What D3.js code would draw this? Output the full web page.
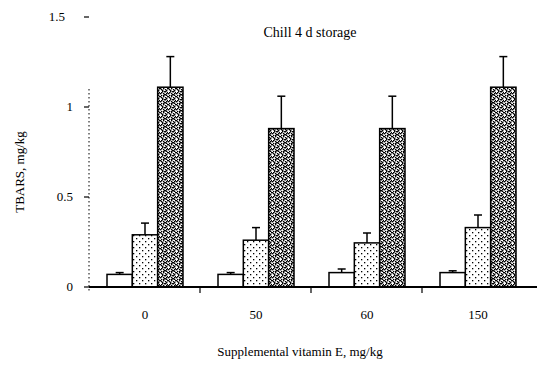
<!DOCTYPE html>
<html lang="en">
<head>
<meta charset="utf-8" />
<title>TBARS chart</title>
<script src="https://d3js.org/d3.v7.min.js"></script>
<style>
  body { margin: 0; background: #fff; }
  text { font-family: "Liberation Serif", serif; font-size: 13px; fill: #000; }
</style>
</head>
<body>
<svg id="chart" width="540" height="369"></svg>
<script>
// data
const groups = ["0", "50", "60", "150"];
const seriesNames = ["a", "b", "c"];
const meanA = [0.07, 0.07, 0.08, 0.08];
const errA  = [0.01, 0.01, 0.02, 0.01];
const meanB = [0.29, 0.26, 0.245, 0.33];
const errB  = [0.065, 0.07, 0.055, 0.07];
const meanC = [1.11, 0.88, 0.88, 1.11];
const errC  = [0.17, 0.18, 0.18, 0.17];
const yTicks = [0, 0.5, 1, 1.5];

const svg = d3.select("#chart");
const mLeft = 89, mRight = 533, mTop = 17, mBottom = 287;

const x = d3.scaleBand().domain(groups).range([mLeft, mRight]);
const xs = d3.scaleBand().domain(seriesNames).range([18, 94]);
const y = d3.scaleLinear().domain([0, 1.5]).range([mBottom, mTop]);

// fill patterns
const defs = svg.append("defs");
const dots = defs.append("pattern").attr("id", "dots")
    .attr("patternUnits", "userSpaceOnUse").attr("width", 6).attr("height", 6);
dots.append("rect").attr("width", 6).attr("height", 6).attr("fill", "#fff");
[[1, 1], [4, 4]].forEach(p => dots.append("rect")
    .attr("x", p[0]).attr("y", p[1]).attr("width", 1.3).attr("height", 1.3).attr("fill", "#000"));

const dense = defs.append("pattern").attr("id", "dense")
    .attr("patternUnits", "userSpaceOnUse").attr("width", 8).attr("height", 8);
dense.append("rect").attr("width", 8).attr("height", 8).attr("fill", "#fff");
[[0,0],[1,1],[3,0],[5,1],[6,2],[2,3],[4,3],[7,4],[0,5],[3,5],[5,6],[1,7],[6,7],[2,2],[4,6],[7,0],[1,4],[6,5],[3,7],[5,3]]
    .forEach(p => dense.append("rect")
        .attr("x", p[0]).attr("y", p[1]).attr("width", 1.4).attr("height", 1.4).attr("fill", "#000"));

const fills = { a: "#fff", b: "url(#dots)", c: "url(#dense)" };
const rows = [];
groups.forEach((g, i) => {
    rows.push({ g, s: "a", v: meanA[i], e: errA[i] });
    rows.push({ g, s: "b", v: meanB[i], e: errB[i] });
    rows.push({ g, s: "c", v: meanC[i], e: errC[i] });
});

// error bars (drawn first so the bar covers the lower half)
const eb = svg.append("g").attr("stroke", "#000").attr("stroke-width", 1.5);
rows.forEach(d => {
    const cx = x(d.g) + xs(d.s) + xs.bandwidth() / 2;
    eb.append("line").attr("x1", cx).attr("x2", cx).attr("y1", y(d.v)).attr("y2", y(d.v + d.e));
    eb.append("line").attr("x1", cx - 4).attr("x2", cx + 4).attr("y1", y(d.v + d.e)).attr("y2", y(d.v + d.e));
});

svg.append("g").selectAll("rect")
    .data(rows)
    .enter()
    .append("rect")
    .attr("x", d => x(d.g) + xs(d.s))
    .attr("y", d => y(d.v))
    .attr("width", xs.bandwidth())
    .attr("height", d => y(0) - y(d.v))
    .attr("fill", d => fills[d.s])
    .attr("stroke", "#000")
    .attr("stroke-width", 1.5);

// y axis, dotted line (fades out above 1.1 in the original)
svg.append("line").attr("x1", mLeft).attr("x2", mLeft).attr("y1", y(1.1)).attr("y2", mBottom + 4)
    .attr("stroke", "#000").attr("stroke-dasharray", "1.5 2.5");
svg.selectAll(".ytick").data(yTicks).enter().append("line")
    .attr("x1", mLeft - 5).attr("x2", mLeft).attr("y1", d => y(d)).attr("y2", d => y(d))
    .attr("stroke", "#000").attr("stroke-width", 1.2);
svg.selectAll(".ylab").data(yTicks).enter().append("text")
    .attr("x", d => d === 1.5 ? mLeft - 24 : mLeft - 16).attr("y", d => y(d) + 4)
    .attr("text-anchor", "end")
    .text(d => d === 0 || d === 1 ? d3.format("d")(d) : d3.format(".1f")(d));

// x axis
svg.append("line").attr("x1", mLeft).attr("x2", mRight + 4).attr("y1", mBottom).attr("y2", mBottom)
    .attr("stroke", "#000").attr("stroke-width", 2);
svg.selectAll(".xtick").data(groups.slice(1)).enter().append("line")
    .attr("x1", d => x(d)).attr("x2", d => x(d)).attr("y1", mBottom).attr("y2", mBottom + 6)
    .attr("stroke", "#000").attr("stroke-width", 1.2);
svg.selectAll(".xlab").data(groups).enter().append("text")
    .attr("x", d => x(d) + 56).attr("y", 319)
    .attr("text-anchor", "middle")
    .text(d => d);

svg.append("text").attr("x", 300).attr("y", 356).attr("text-anchor", "middle")
    .text("Supplemental vitamin E, mg/kg");
svg.append("text").attr("transform", "translate(24,172) rotate(-90)").attr("text-anchor", "middle")
    .text("TBARS, mg/kg");
svg.append("text").attr("x", 310).attr("y", 37).attr("text-anchor", "middle")
    .style("font-size", "14px")
    .text("Chill 4 d storage");
</script>
</body>
</html>
